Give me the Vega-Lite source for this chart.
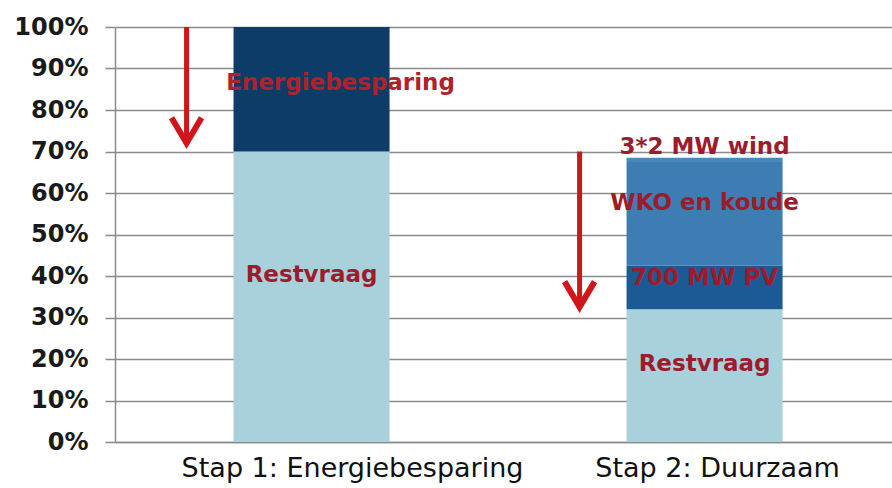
{
  "$schema": "https://vega.github.io/schema/vega-lite/v6.json",
  "width": 777,
  "height": 415,
  "autosize": {"type": "none"},
  "padding": {"left": 115, "top": 27, "right": 0, "bottom": 46},
  "background": "white",
  "config": {"view": {"stroke": null}},
  "datasets": {
    "bars": [
      {"stap": "Stap 1: Energiebesparing", "segment": "Restvraag", "volgorde": 1, "aandeel": 70},
      {"stap": "Stap 1: Energiebesparing", "segment": "Energiebesparing", "volgorde": 2, "aandeel": 30},
      {"stap": "Stap 2: Duurzaam", "segment": "Restvraag", "volgorde": 1, "aandeel": 32},
      {"stap": "Stap 2: Duurzaam", "segment": "700 MW PV", "volgorde": 2, "aandeel": 10.5},
      {"stap": "Stap 2: Duurzaam", "segment": "WKO en koude", "volgorde": 3, "aandeel": 25},
      {"stap": "Stap 2: Duurzaam", "segment": "3*2 MW wind", "volgorde": 4, "aandeel": 1}
    ],
    "arrows": [
      {"stap": "Stap 1: Energiebesparing", "van": 100, "tot": 70.8},
      {"stap": "Stap 2: Duurzaam", "van": 70, "tot": 31.3}
    ],
    "labels": [
      {"stap": "Stap 1: Energiebesparing", "tekst": "Energiebesparing", "hoogte": 86.6, "verschoven": true},
      {"stap": "Stap 1: Energiebesparing", "tekst": "Restvraag", "hoogte": 40.2, "verschoven": false},
      {"stap": "Stap 2: Duurzaam", "tekst": "3*2 MW wind", "hoogte": 71.2, "verschoven": false},
      {"stap": "Stap 2: Duurzaam", "tekst": "WKO en koude", "hoogte": 57.5, "verschoven": false},
      {"stap": "Stap 2: Duurzaam", "tekst": "700 MW PV", "hoogte": 39.5, "verschoven": false},
      {"stap": "Stap 2: Duurzaam", "tekst": "Restvraag", "hoogte": 18.8, "verschoven": false}
    ]
  },
  "encoding": {
    "x": {
      "field": "stap",
      "type": "nominal",
      "sort": ["Stap 1: Energiebesparing", "Stap 2: Duurzaam"],
      "scale": {"paddingInner": 0.603, "paddingOuter": 0.29, "align": 0.52},
      "axis": {
        "title": null,
        "labelAngle": 0,
        "labelFont": "DejaVu Sans",
        "labelFontSize": 27,
        "labelColor": "#111111",
        "labelLimit": 0,
        "labelPadding": 13,
        "ticks": false,
        "domainColor": "#8a8a8a",
        "domainWidth": 1.5,
        "labelOffset": {"condition": {"test": "datum.value === 'Stap 1: Energiebesparing'", "value": 41}, "value": 13}
      }
    }
  },
  "layer": [
    {
      "data": {"name": "bars"},
      "mark": {"type": "bar"},
      "encoding": {
        "y": {
          "field": "aandeel",
          "type": "quantitative",
          "aggregate": "sum",
          "stack": "zero",
          "scale": {"domain": [0, 100], "nice": false},
          "axis": {
            "title": null,
            "values": [0, 10, 20, 30, 40, 50, 60, 70, 80, 90, 100],
            "labelExpr": "datum.value + '%'",
            "labelFont": "DejaVu Sans",
            "labelFontSize": 24,
            "labelFontWeight": "bold",
            "labelColor": "#1a1a1a",
            "labelPadding": 17,
            "tickSize": 10,
            "tickColor": "#8a8a8a",
            "tickWidth": 1.5,
            "domainColor": "#8a8a8a",
            "domainWidth": 1.5,
            "grid": true,
            "gridColor": "#8a8a8a",
            "gridWidth": 1.5,
            "gridOpacity": 1
          }
        },
        "color": {
          "field": "segment",
          "type": "nominal",
          "scale": {
            "domain": ["Restvraag", "Energiebesparing", "700 MW PV", "WKO en koude", "3*2 MW wind"],
            "range": ["#a9d1dc", "#0e3c68", "#1b5a94", "#3d7db3", "#4a88bb"]
          },
          "legend": null
        },
        "order": {"field": "volgorde", "type": "quantitative"}
      }
    },
    {
      "data": {"name": "arrows"},
      "mark": {"type": "rule", "color": "#d0161b", "strokeWidth": 5, "xOffset": -125, "y2Offset": -6},
      "encoding": {
        "y": {"field": "van", "type": "quantitative"},
        "y2": {"field": "tot"}
      }
    },
    {
      "data": {"name": "arrows"},
      "mark": {"type": "point", "shape": "M-1,-1.7L0,0L1,-1.7", "size": 900, "filled": false, "color": "#d0161b", "strokeWidth": 6, "opacity": 1, "xOffset": -125, "yOffset": -5},
      "encoding": {
        "y": {"field": "tot", "type": "quantitative"}
      }
    },
    {
      "data": {"name": "labels"},
      "transform": [{"filter": "!datum.verschoven"}],
      "mark": {"type": "text", "font": "DejaVu Sans", "fontSize": 23, "fontWeight": "bold", "color": "#9c1c2b", "baseline": "middle", "align": "center"},
      "encoding": {
        "y": {"field": "hoogte", "type": "quantitative"},
        "text": {"field": "tekst"}
      }
    },
    {
      "data": {"name": "labels"},
      "transform": [{"filter": "datum.verschoven"}],
      "mark": {"type": "text", "font": "DejaVu Sans", "fontSize": 23, "fontWeight": "bold", "color": "#b0222a", "baseline": "middle", "align": "center", "dx": 29},
      "encoding": {
        "y": {"field": "hoogte", "type": "quantitative"},
        "text": {"field": "tekst"}
      }
    }
  ]
}
